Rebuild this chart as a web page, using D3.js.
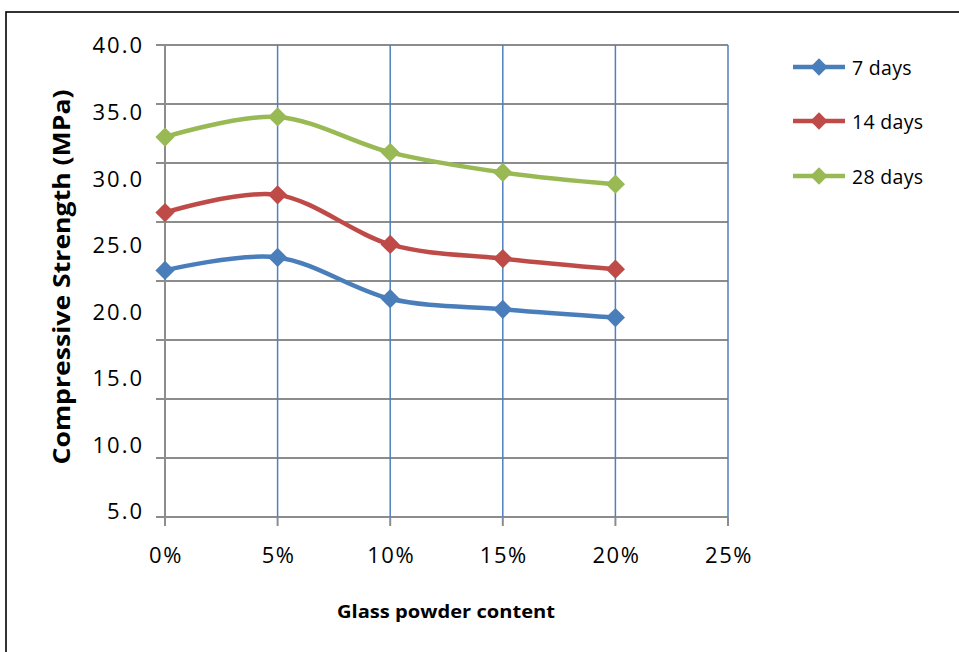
<!DOCTYPE html>
<html>
<head>
<meta charset="utf-8">
<script src="https://cdn.jsdelivr.net/npm/d3@7"></script>
<style>
  html, body { margin: 0; padding: 0; background: #fff; }
  svg { display: block; font-family: "Open Sans", "Liberation Sans", sans-serif; }
</style>
</head>
<body>
<svg id="chart" width="959" height="652"></svg>
<script>
// ── Data ─────────────────────────────────────────────────────────────────────

const contents = [0, 5, 10, 15, 20];          // glass powder content, %
const xTicks = [0, 5, 10, 15, 20, 25];
const yLabels = ["5.0", "10.0", "15.0", "20.0", "25.0", "30.0", "35.0", "40.0"];

const seriesNames = ["7 days", "14 days", "28 days"];
const days7 = [20.9, 22.0, 18.5, 17.6, 16.9];
const days14 = [25.8, 27.3, 23.1, 21.9, 21.0];
const days28 = [32.2, 33.9, 30.9, 29.2, 28.2];

const colors = ["#4A7EBB", "#BE4B48", "#98B954"];

// ── Layout ───────────────────────────────────────────────────────────────────

const svg = d3.select("#chart");
const plot = { left: 165, right: 728, top: 45, bottom: 517 };

const x = d3.scaleLinear().domain([0, 25]).range([plot.left, plot.right]);
const y = d3.scaleLinear().domain([0, 40]).range([plot.bottom, plot.top]);
// tick labels are spread evenly down the axis, independent of the gridlines
const yLab = d3.scalePoint().domain(yLabels).range([511.5, 45.5]);

// outer frame (only top/left edges visible)
svg.append("rect")
  .attr("x", 6).attr("y", 12)
  .attr("width", 1000).attr("height", 700)
  .attr("fill", "none").attr("stroke", "#000").attr("stroke-width", 1.6);

// ── Grid ─────────────────────────────────────────────────────────────────────

const yGrid = d3.range(0, 41, 5);

svg.append("g")
  .selectAll("line")
  .data(yGrid)
  .join("line")
  .attr("x1", plot.left - 9).attr("x2", plot.right)
  .attr("y1", (d) => y(d)).attr("y2", (d) => y(d))
  .attr("stroke", "#8C8C8C").attr("stroke-width", 2);

svg.append("g")
  .selectAll("line")
  .data(xTicks.slice(1))
  .join("line")
  .attr("x1", (d) => x(d)).attr("x2", (d) => x(d))
  .attr("y1", plot.top).attr("y2", plot.bottom)
  .attr("stroke", "#4F81BD").attr("stroke-width", 1.5);

// x tick marks
svg.append("g")
  .selectAll("line")
  .data(xTicks)
  .join("line")
  .attr("x1", (d) => x(d)).attr("x2", (d) => x(d))
  .attr("y1", plot.bottom).attr("y2", plot.bottom + 9)
  .attr("stroke", "#8C8C8C").attr("stroke-width", 2);

// left axis
svg.append("line")
  .attr("x1", plot.left).attr("x2", plot.left)
  .attr("y1", plot.top).attr("y2", plot.bottom + 9)
  .attr("stroke", "#8C8C8C").attr("stroke-width", 2);

// ── Tick labels ──────────────────────────────────────────────────────────────

svg.append("g")
  .selectAll("text")
  .data(yLabels)
  .join("text")
  .attr("x", 144)
  .attr("y", (d) => yLab(d))
  .attr("dy", "0.36em")
  .attr("text-anchor", "end")
  .attr("font-size", 22)
  .attr("letter-spacing", 2)
  .attr("fill", "#000")
  .text((d) => d);

svg.append("g")
  .selectAll("text")
  .data(xTicks)
  .join("text")
  .attr("x", (d) => x(d) + 1)
  .attr("y", 563)
  .attr("text-anchor", "middle")
  .attr("font-size", 22)
  .attr("letter-spacing", 1.5)
  .attr("fill", "#000")
  .text((d) => `${d}%`);

// ── Axis titles ──────────────────────────────────────────────────────────────

svg.append("text")
  .attr("x", 446).attr("y", 618)
  .attr("text-anchor", "middle")
  .attr("font-size", 17).attr("font-weight", "bold")
  .attr("textLength", 218).attr("lengthAdjust", "spacingAndGlyphs")
  .text("Glass powder content");

svg.append("text")
  .attr("transform", "translate(70,277) rotate(-90)")
  .attr("text-anchor", "middle")
  .attr("font-size", 23).attr("font-weight", "bold")
  .attr("textLength", 375).attr("lengthAdjust", "spacingAndGlyphs")
  .text("Compressive Strength (MPa)");

// ── Series ───────────────────────────────────────────────────────────────────

const series = [days7, days14, days28];
const line = d3.line()
  .x((d, i) => x(contents[i]))
  .y((d) => y(d))
  .curve(d3.curveCardinal.tension(0));

const diamond = d3.symbol().type(d3.symbolSquare).size(185);

series.forEach((values, k) => {
  svg.append("path")
    .datum(values)
    .attr("d", line)
    .attr("fill", "none")
    .attr("stroke", colors[k])
    .attr("stroke-width", 4.5)
    .attr("stroke-linejoin", "round");

  svg.append("g")
    .selectAll("path")
    .data(values)
    .join("path")
    .attr("d", diamond)
    .attr("transform", (d, i) => `translate(${x(contents[i])},${y(d)}) rotate(45)`)
    .attr("fill", colors[k]);
});

// ── Legend ───────────────────────────────────────────────────────────────────

const legendY = [67, 121, 176];
const legend = svg.append("g")
  .selectAll("g")
  .data(seriesNames)
  .join("g")
  .attr("transform", (d, i) => `translate(0,${legendY[i]})`);

legend.append("line")
  .attr("x1", 793).attr("x2", 845)
  .attr("stroke", (d, i) => colors[i])
  .attr("stroke-width", 4.5);

legend.append("path")
  .attr("d", d3.symbol().type(d3.symbolSquare).size(150))
  .attr("transform", "translate(819,0) rotate(45)")
  .attr("fill", (d, i) => colors[i]);

legend.append("text")
  .attr("x", 852).attr("y", 0)
  .attr("dy", "0.4em")
  .attr("font-size", 19.5)
  .attr("letter-spacing", 0.3)
  .attr("fill", "#000")
  .text((d) => d);
</script>
</body>
</html>
